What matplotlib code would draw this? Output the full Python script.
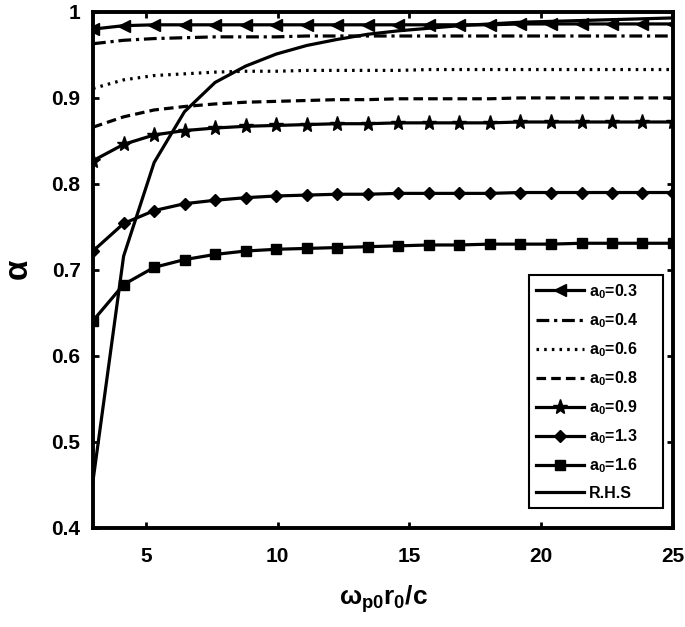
import numpy as np
import matplotlib
matplotlib.use('Agg')
import matplotlib.pyplot as plt

plt.rcParams['font.family'] = 'Liberation Sans'
plt.rcParams['font.weight'] = 'bold'
plt.rcParams['mathtext.fontset'] = 'custom'
plt.rcParams['mathtext.rm'] = 'Liberation Sans:bold'
plt.rcParams['mathtext.it'] = 'Liberation Sans:bold'
plt.rcParams['mathtext.bf'] = 'Liberation Sans:bold'

# x positions of the computed points (20 points from 3 to 25)
x = [3.0, 4.16, 5.32, 6.47, 7.63, 8.79, 9.95, 11.11, 12.26, 13.42,
     14.58, 15.74, 16.89, 18.05, 19.21, 20.37, 21.53, 22.68, 23.84, 25.0]

a03 = [0.980, 0.984, 0.985, 0.985, 0.985, 0.985, 0.985, 0.985, 0.985, 0.985,
       0.985, 0.985, 0.985, 0.985, 0.986, 0.986, 0.986, 0.986, 0.986, 0.986]
a04 = [0.963, 0.967, 0.969, 0.970, 0.971, 0.971, 0.971, 0.972, 0.972, 0.972,
       0.972, 0.972, 0.972, 0.972, 0.972, 0.972, 0.972, 0.972, 0.972, 0.972]
a06 = [0.911, 0.921, 0.926, 0.928, 0.930, 0.931, 0.931, 0.932, 0.932, 0.932,
       0.932, 0.933, 0.933, 0.933, 0.933, 0.933, 0.933, 0.933, 0.933, 0.933]
a08 = [0.866, 0.878, 0.886, 0.890, 0.893, 0.895, 0.896, 0.897, 0.898, 0.898,
       0.899, 0.899, 0.899, 0.899, 0.900, 0.900, 0.900, 0.900, 0.900, 0.900]
a09 = [0.827, 0.846, 0.857, 0.862, 0.865, 0.867, 0.868, 0.869, 0.870, 0.870,
       0.871, 0.871, 0.871, 0.871, 0.872, 0.872, 0.872, 0.872, 0.872, 0.872]
a13 = [0.722, 0.754, 0.769, 0.777, 0.781, 0.784, 0.786, 0.787, 0.788, 0.788,
       0.789, 0.789, 0.789, 0.789, 0.790, 0.790, 0.790, 0.790, 0.790, 0.790]
a16 = [0.641, 0.683, 0.703, 0.712, 0.718, 0.722, 0.724, 0.725, 0.726, 0.727,
       0.728, 0.729, 0.729, 0.730, 0.730, 0.730, 0.731, 0.731, 0.731, 0.731]
rhs = [0.455, 0.716, 0.825, 0.884, 0.918, 0.937, 0.951, 0.961, 0.968, 0.974,
       0.978, 0.981, 0.984, 0.986, 0.988, 0.989, 0.990, 0.991, 0.992, 0.993]

fig = plt.figure(figsize=(6.85, 6.27), dpi=100)
ax = fig.add_axes([0.1358, 0.158, 0.8467, 0.823])

lw = 2.3
pad = '     '  # matlab-style legend leaves extra room on the right
ax.plot(x, a03, 'k-', marker='<', ms=9, lw=lw, label=r'a$_0$=0.3' + pad)
ax.plot(x, a04, 'k', ls=(0, (4, 1.5, 1, 1.5)), lw=lw, label=r'a$_0$=0.4')
ax.plot(x, a06, 'k', ls=(0, (0.8, 1.6)), lw=lw, label=r'a$_0$=0.6')
ax.plot(x, a08, 'k', ls=(0, (3, 1.6)), lw=lw, label=r'a$_0$=0.8')
ax.plot(x, a09, 'k-', marker='*', ms=11, lw=lw, label=r'a$_0$=0.9')
ax.plot(x, a13, 'k-', marker='D', ms=6.5, lw=lw, label=r'a$_0$=1.3')
ax.plot(x, a16, 'k-', marker='s', ms=6.5, lw=lw, label=r'a$_0$=1.6')
ax.plot(x, rhs, 'k-', lw=lw, label='R.H.S')

ax.set_xlim(3, 25)
ax.set_ylim(0.4, 1.0)
ax.set_xticks([5, 10, 15, 20, 25])
ax.set_yticks([0.4, 0.5, 0.6, 0.7, 0.8, 0.9, 1.0])
ax.set_yticklabels(['0.4', '0.5', '0.6', '0.7', '0.8', '0.9', '1'])
ax.tick_params(direction='in', length=4, width=2, labelsize=15, top=True, right=True)
ax.tick_params(axis='x', pad=14)
ax.tick_params(axis='y', pad=9)
for s in ax.spines.values():
    s.set_linewidth(2.8)

ax.set_xlabel(r'$\omega_{p0}r_0/c$', fontsize=19, labelpad=12)
ax.set_ylabel(r'$\alpha$', fontsize=24, labelpad=12)

leg = ax.legend(loc='lower right', bbox_to_anchor=(0.983, 0.039), borderaxespad=0,
                fancybox=False, framealpha=1, edgecolor='k', fontsize=11.5,
                handlelength=3.0, handletextpad=0.3, labelspacing=0.65,
                borderpad=0.45)
leg.get_frame().set_linewidth(1.5)

fig.savefig('out.png', dpi=100)
